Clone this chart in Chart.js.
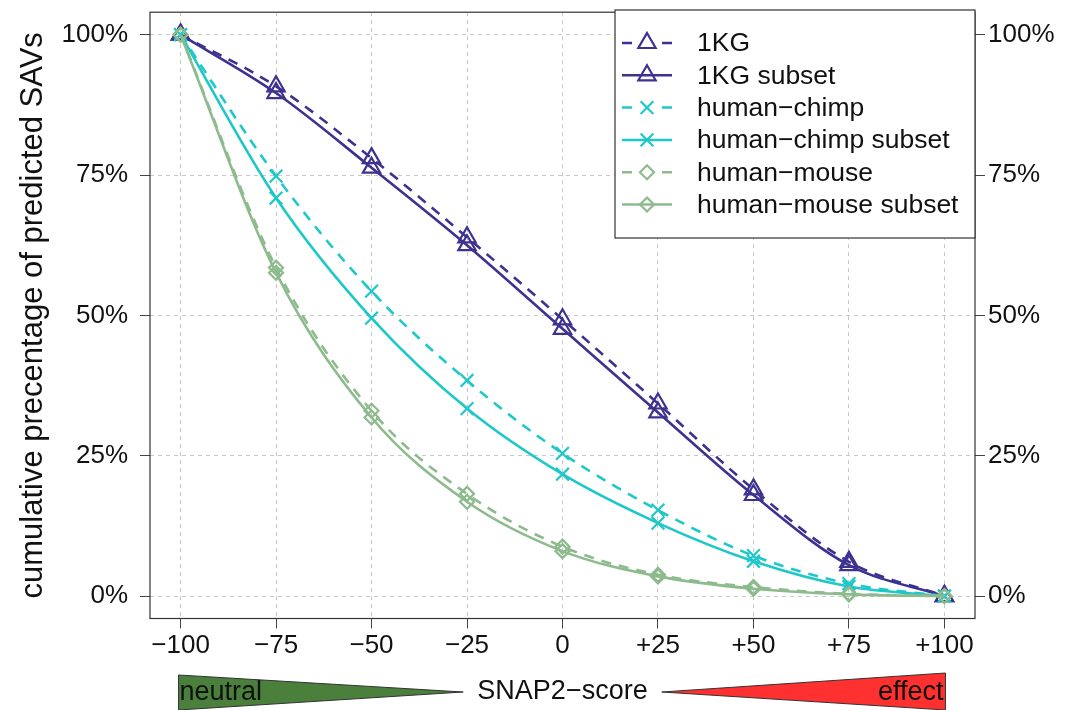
<!DOCTYPE html>
<html><head><meta charset="utf-8">
<script src="https://cdn.jsdelivr.net/npm/chart.js@4/dist/chart.umd.min.js"></script>
<style>html,body{margin:0;padding:0;background:#fff}#wrap{width:1083px;height:710px}</style>
</head><body><div id="wrap"><canvas id="c" width="1083" height="710"></canvas></div>
<script>
const scores = [-100, -75, -50, -25, 0, 25, 50, 75, 100];
const xTickLabels = ['\u2212100','\u221275','\u221250','\u221225','0','+25','+50','+75','+100'];
const yTicks = [0, 25, 50, 75, 100];
const yTickLabels = ['0%','25%','50%','75%','100%'];
const seriesNames = ['1KG','1KG subset','human\u2212chimp','human\u2212chimp subset','human\u2212mouse','human\u2212mouse subset'];
const kg = [100, 90.8, 78.0, 63.9, 49.3, 34.3, 19.0, 6.1, 0];
const kgSubset = [100, 89.6, 76.3, 62.5, 47.6, 32.7, 18.0, 5.5, 0];
const chimp = [100, 74.8, 54.3, 38.4, 25.4, 15.3, 7.2, 2.2, 0];
const chimpSubset = [100, 70.9, 49.5, 33.4, 21.7, 13.0, 6.2, 1.7, 0];
const mouse = [100, 58.5, 33.0, 18.2, 8.8, 3.8, 1.6, 0.4, 0];
const mouseSubset = [100, 57.6, 31.8, 16.8, 8.0, 3.5, 1.3, 0.3, 0];

const PURPLE = '#3d3290', CYAN = '#1ec8c8', GREEN = '#8dbb8d';
const FONT = '"Liberation Sans", Arial, sans-serif';
const styles = [
  {c: PURPLE, dash: [10, 8], ps: 'triangle', r: 10},
  {c: PURPLE, dash: [], ps: 'triangle', r: 10},
  {c: CYAN, dash: [10, 8], ps: 'crossRot', r: 9},
  {c: CYAN, dash: [], ps: 'crossRot', r: 9},
  {c: GREEN, dash: [10, 8], ps: 'rectRot', r: 7},
  {c: GREEN, dash: [], ps: 'rectRot', r: 7}
];
const seriesData = [kg, kgSubset, chimp, chimpSubset, mouse, mouseSubset];

const datasets = seriesData.map((vals, i) => ({
  label: seriesNames[i],
  data: vals.map((v, j) => ({x: scores[j], y: v})),
  borderColor: styles[i].c,
  borderDash: styles[i].dash,
  borderWidth: 2.6,
  pointStyle: styles[i].ps,
  pointRadius: styles[i].r,
  pointBorderWidth: 2.2,
  pointBorderColor: styles[i].c,
  pointBackgroundColor: 'rgba(0,0,0,0)',
  cubicInterpolationMode: 'monotone',
  fill: false,
  order: 6 - i
}));

const boxPlugin = {
  id: 'boxPlugin',
  afterDraw(chart) {
    const ctx = chart.ctx, a = chart.chartArea, xs = chart.scales.x;
    ctx.save();
    ctx.strokeStyle = '#333'; ctx.lineWidth = 1.2; ctx.setLineDash([]);
    ctx.strokeRect(a.left, a.top, a.right - a.left, a.bottom - a.top);
    // legend
    const lx = 615, ly = 10, lw = a.right - lx, lh = 228;
    ctx.fillStyle = '#fff'; ctx.fillRect(lx, ly, lw, lh);
    ctx.strokeRect(lx, ly, lw, lh);
    ctx.font = '26.5px ' + FONT; ctx.textBaseline = 'middle'; ctx.textAlign = 'left';
    for (let i = 0; i < 6; i++) {
      const y = 43 + i * 32.3, s = styles[i];
      ctx.strokeStyle = s.c; ctx.lineWidth = 2.5; ctx.setLineDash([]);
      ctx.beginPath();
      if (s.dash.length) {
        ctx.moveTo(622, y); ctx.lineTo(632, y); ctx.moveTo(662, y); ctx.lineTo(672, y);
      } else {
        ctx.moveTo(622, y); ctx.lineTo(672, y);
      }
      ctx.stroke();
      ctx.lineWidth = 2.2; ctx.fillStyle = 'rgba(0,0,0,0)';
      Chart.helpers.drawPoint(ctx, {pointStyle: s.ps, radius: s.r, borderWidth: 2.2}, 647, y);
      ctx.fillStyle = '#111'; ctx.fillText(seriesNames[i], 697, y + 1);
    }
    // SNAP2 bar
    const x0 = xs.getPixelForValue(-100), x1 = xs.getPixelForValue(100);
    const gEnd = xs.getPixelForValue(-26), rStart = xs.getPixelForValue(26);
    ctx.setLineDash([]);
    ctx.fillStyle = '#4a7f3c'; ctx.strokeStyle = '#333'; ctx.lineWidth = 1;
    ctx.beginPath(); ctx.moveTo(x0 - 2, 675); ctx.lineTo(gEnd, 692); ctx.lineTo(x0 - 2, 710); ctx.closePath(); ctx.fill(); ctx.stroke();
    ctx.fillStyle = '#ff3030';
    ctx.beginPath(); ctx.moveTo(x1 + 1, 673); ctx.lineTo(rStart, 692); ctx.lineTo(x1 + 1, 710); ctx.closePath(); ctx.fill(); ctx.stroke();
    ctx.fillStyle = '#111'; ctx.font = '27px ' + FONT;
    ctx.textAlign = 'left'; ctx.fillText('neutral', x0 - 1, 693);
    ctx.textAlign = 'right'; ctx.fillText('effect', x1 - 1, 693);
    ctx.textAlign = 'center'; ctx.fillText('SNAP2\u2212score', (x0 + x1) / 2, 692);
    ctx.restore();
  }
};

const noPad = s => { s.paddingTop = 0; s.paddingBottom = 0; s.paddingLeft = 0; s.paddingRight = 0; };
const tickFont = {family: FONT, size: 26};
new Chart(document.getElementById('c'), {
  type: 'line',
  data: {datasets},
  options: {
    responsive: false, animation: false, devicePixelRatio: 1,
    layout: {padding: {top: 10.5, left: 0, right: 0, bottom: 0}},
    plugins: {legend: {display: false}, tooltip: {enabled: false}},
    scales: {
      x: {
        type: 'linear', position: 'bottom', min: -108, max: 108,
        afterBuildTicks: s => { s.ticks = scores.map(v => ({value: v})); },
        afterFit: s => { s.height = 91.5; noPad(s); },
        ticks: {font: tickFont, color: '#111', padding: 2, maxRotation: 0, autoSkip: false,
          callback: (v, i) => xTickLabels[scores.indexOf(v)]},
        grid: {color: '#c8c8c8', lineWidth: 1, drawTicks: true, tickLength: 10, tickColor: '#444', tickWidth: 1, tickBorderDash: []},
        border: {display: false, dash: [4, 4]}
      },
      y: {
        type: 'linear', position: 'left', min: -4, max: 104,
        afterBuildTicks: s => { s.ticks = yTicks.map(v => ({value: v})); },
        afterFit: s => { s.width = 150; noPad(s); },
        ticks: {font: tickFont, color: '#111', padding: 12, autoSkip: false,
          callback: v => yTickLabels[yTicks.indexOf(v)]},
        title: {display: true, text: 'cumulative precentage of predicted SAVs', font: {family: FONT, size: 31}, color: '#111', padding: {top: 15, bottom: 0}},
        grid: {color: '#c8c8c8', lineWidth: 1, drawTicks: true, tickLength: 10, tickColor: '#444', tickWidth: 1, tickBorderDash: []},
        border: {display: false, dash: [4, 4]}
      },
      y2: {
        type: 'linear', position: 'right', min: -4, max: 104,
        afterBuildTicks: s => { s.ticks = yTicks.map(v => ({value: v})); },
        afterFit: s => { s.width = 108; noPad(s); },
        ticks: {font: tickFont, color: '#111', padding: 3, autoSkip: false,
          callback: v => yTickLabels[yTicks.indexOf(v)]},
        grid: {drawOnChartArea: false, drawTicks: true, tickLength: 10, tickColor: '#444', tickWidth: 1, tickBorderDash: []},
        border: {display: false}
      }
    }
  },
  plugins: [boxPlugin]
});
</script></body></html>
